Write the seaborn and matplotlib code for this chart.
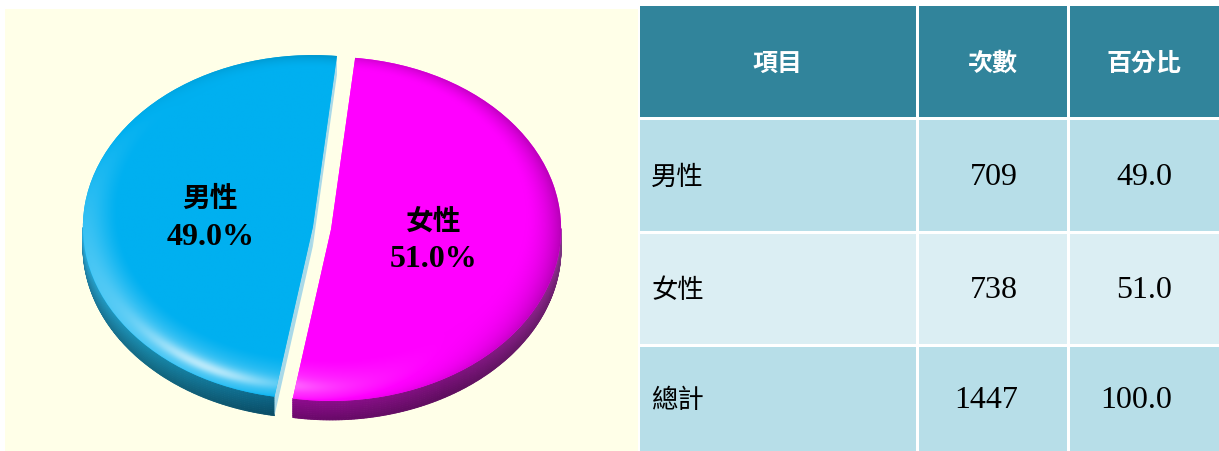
import numpy as np
import matplotlib
matplotlib.use('Agg')
import matplotlib.pyplot as plt
import seaborn as sns
from matplotlib.patches import Rectangle
from matplotlib.collections import PolyCollection
from matplotlib.colors import to_rgb

# ---------------- data ----------------
categories = ['男性', '女性']
counts = [709, 738]
percents = [49.0, 51.0]
total_label = '總計'
headers = ['項目', '次數', '百分比']

# ---------------- style ----------------
sns.set_theme(style='white')
plt.rcParams['font.family'] = ['Liberation Serif', 'Noto Sans CJK TC', 'DejaVu Sans']

W, H = 1219, 452
fig = plt.figure(figsize=(W / 100, H / 100), dpi=100)
fig.patch.set_facecolor('white')

# background axes in pixel coordinates
bg = fig.add_axes([0, 0, 1, 1])
bg.set_xlim(0, W)
bg.set_ylim(H, 0)
bg.axis('off')
bg.add_patch(Rectangle((5, 10), 633, 442, facecolor='#FFFFE8', edgecolor='none', zorder=0))

# ---------------- table ----------------
col_edges = [(640, 916), (919, 1067), (1070, 1219)]
row_edges = [(7, 118), (121, 232), (235, 345), (348, 452)]
row_colors = ['#31849B', '#B7DEE8', '#DBEEF3', '#B7DEE8']

for (y0, y1), rc in zip(row_edges, row_colors):
    for (x0, x1) in col_edges:
        bg.add_patch(Rectangle((x0, y0), x1 - x0, y1 - y0, facecolor=rc,
                               edgecolor='none', zorder=1))

# header
for (x0, x1), h in zip(col_edges, headers):
    bg.text((x0 + x1) / 2, (row_edges[0][0] + row_edges[0][1]) / 2 + 1, h,
            ha='center', va='center', color='white', fontsize=18,
            fontweight='bold', family=['Noto Sans CJK TC'], zorder=3)

body_rows = [(c, str(n), f'{p:.1f}') for c, n, p in zip(categories, counts, percents)]
body_rows.append((total_label, str(sum(counts)), f'{sum(percents):.1f}'))

for (y0, y1), (lab, cnt, pct) in zip(row_edges[1:], body_rows):
    yc = (y0 + y1) / 2 + 1
    bg.text(651, yc, lab, ha='left', va='center', color='black', fontsize=19,
            family=['Noto Sans CJK TC'], zorder=3)
    bg.text(1018, yc, cnt, ha='right', va='center', color='black', fontsize=23,
            family=['Liberation Serif'], zorder=3)
    bg.text(1172, yc, pct, ha='right', va='center', color='black', fontsize=23,
            family=['Liberation Serif'], zorder=3)

# ---------------- pie ----------------
px0, py0, px1, py1 = 5, 10, 638, 452
ax = fig.add_axes([px0 / W, 1 - py1 / H, (px1 - px0) / W, (py1 - py0) / H])
cxp, cyp = 322, 229          # pixel centre of the pie
sx, sy = 230, 172            # pixels per data unit (ellipse radii)
thick = 19 / sy              # side thickness in data units

top_colors = ['#00B0F0', '#FF00FF']
side_stops = [
    [(180, '#2A9ECB'), (225, '#17809F'), (262, '#0B5C7B')],
    [(258, '#850A85'), (300, '#731073'), (345, '#862686'), (362, '#9A44A0')],
]
cut_color = '#A9D9E8'

wedges, _ = ax.pie(counts, colors=top_colors, startangle=84, counterclock=True,
                   explode=[0.04, 0.04], radius=1,
                   wedgeprops=dict(linewidth=0))
ax.set_aspect('auto')
ax.axis('off')


def interp_color(stops, ang):
    angs = np.array([s[0] for s in stops], float)
    cols = np.array([to_rgb(s[1]) for s in stops])
    return np.array([np.interp(ang, angs, cols[:, k]) for k in range(3)]).T


L = np.array([-0.55, -0.45, 0.7])
L = L / np.linalg.norm(L)
Hv = L + np.array([0, -0.5, 0.87])
Hv = Hv / np.linalg.norm(Hv)


def shade_top(base, cx, cy):
    xs = np.linspace(cx - 1.05, cx + 1.05, 520)
    ys = np.linspace(cy - 1.05, cy + 1.05, 400)
    X, Y = np.meshgrid(xs, ys)
    U, V = X - cx, Y - cy
    R = np.hypot(U, V) + 1e-9
    sd = V / R
    r_in = 0.845 + 0.085 * sd
    smax = 0.725 - 0.225 * sd
    t = np.clip((R - r_in) / (1 - r_in), 0, 1)
    s = smax * t ** 1.4
    nx, ny, nz = U / R * s, V / R * s, np.sqrt(1 - s ** 2)
    d = nx * L[0] + ny * L[1] + nz * L[2]
    f = 0.68 + 0.32 * np.clip(d, 0, None) / L[2]
    spec = np.clip(nx * Hv[0] + ny * Hv[1] + nz * Hv[2], 0, 1) ** 50 * (t > 0)
    b = np.array(to_rgb(base))
    F = f[..., None]
    img = np.where(F <= 1, b * F, b + (1 - b) * (F - 1) * 2.5)
    img = img + spec[..., None] * (1 - img) * 0.6
    return np.clip(img, 0, 1), (xs[0], xs[-1], ys[0], ys[-1])


for i, w in enumerate(wedges):
    cx, cy = w.center
    t1, t2 = w.theta1, w.theta2
    # visible outer side (front half)
    ts = np.linspace(t1, t2, 500)
    polys, cols = [], []
    nlay = 10
    for a, b in zip(ts[:-1], ts[1:]):
        m = np.deg2rad((a + b) / 2)
        if np.sin(m) >= 0:
            continue
        ra, rb = np.deg2rad(a), np.deg2rad(b)
        col = interp_color(side_stops[i], (a + b) / 2)
        for k in range(nlay):
            z0 = -thick * k / nlay
            z1 = -thick * (k + 1) / nlay
            polys.append([(cx + np.cos(ra), cy + np.sin(ra) + z0),
                          (cx + np.cos(rb), cy + np.sin(rb) + z0),
                          (cx + np.cos(rb), cy + np.sin(rb) + z1),
                          (cx + np.cos(ra), cy + np.sin(ra) + z1)])
            fac = 1.08 - 0.25 * (k / (nlay - 1))
            cols.append(np.clip(col * fac, 0, 1))
    if polys:
        pc = PolyCollection(polys, facecolors=cols, edgecolors=cols,
                            linewidths=0.6, zorder=2)
        ax.add_collection(pc)
    # visible cut faces
    for ang, nrm in ((t1, t1 - 90), (t2, t2 + 90)):
        if np.sin(np.deg2rad(nrm)) < 0:
            ra = np.deg2rad(ang)
            ex, ey = cx + np.cos(ra), cy + np.sin(ra)
            ax.fill([cx, ex, ex, cx], [cy, ey, ey - thick, cy - thick],
                    color=cut_color, lw=0, zorder=2.5)
    w.set_zorder(3)
    img, ext = shade_top(top_colors[i], cx, cy)
    im = ax.imshow(img, origin='lower', extent=ext, aspect='auto',
                   interpolation='bilinear', zorder=4)
    im.set_clip_path(w)

ax.set_xlim((px0 - cxp) / sx, (px1 - cxp) / sx)
ax.set_ylim((cyp - py1) / sy, (cyp - py0) / sy)

# labels
for w, name, p in zip(wedges, categories, percents):
    cx, cy = w.center
    m = np.deg2rad((w.theta1 + w.theta2) / 2)
    x, y = cx + 0.45 * np.cos(m), cy + 0.45 * np.sin(m)
    ax.annotate(name, xy=(x, y), xytext=(0, 13.5), textcoords='offset points',
                ha='center', va='center', fontsize=20, fontweight='bold',
                family=['Noto Sans CJK TC'], color='black', zorder=6)
    ax.annotate(f'{p:.1f}%', xy=(x, y), xytext=(0, -14), textcoords='offset points',
                ha='center', va='center', fontsize=23, fontweight='bold',
                family=['Liberation Serif'], color='black', zorder=6)

fig.savefig('out.png', dpi=100, facecolor='white')
